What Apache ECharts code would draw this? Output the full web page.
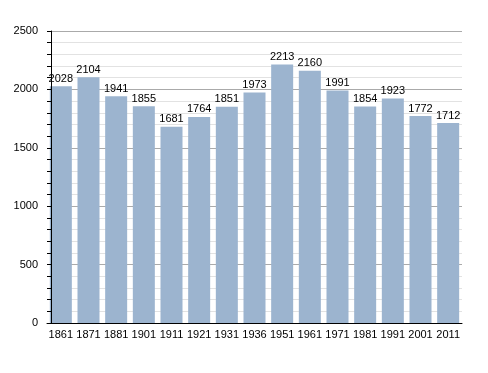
<!DOCTYPE html>
<html><head><meta charset="utf-8">
<script src="https://cdn.jsdelivr.net/npm/echarts@6/dist/echarts.min.js"></script>
<style>html,body{margin:0;padding:0;background:#fff}#c{width:488px;height:373px}</style>
</head><body><div id="c"></div>
<script>
var years = ['1861','1871','1881','1901','1911','1921','1931','1936','1951','1961','1971','1981','1991','2001','2011'];
var population = [2028,2104,1941,1855,1681,1764,1851,1973,2213,2160,1991,1854,1923,1772,1712];
var yTicks = [0,500,1000,1500,2000,2500];
var font = 'Liberation Sans, Arial, sans-serif';
var chart = echarts.init(document.getElementById('c'));
chart.setOption({
  animation:false,
  grid:{left:47,right:26,top:31,bottom:50},
  xAxis:{type:'category',data:years,
    axisLine:{lineStyle:{color:'#000',width:1}},
    axisTick:{show:false},
    axisLabel:{color:'#000',fontFamily:font,fontSize:11,margin:6,interval:0}},
  yAxis:[{type:'value',min:yTicks[0],max:yTicks[yTicks.length-1],interval:500,
    axisLine:{show:false},axisTick:{show:false},axisLabel:{show:false},
    splitLine:{lineStyle:{color:'#aaaaaa'}},
    minorTick:{show:false,splitNumber:5},
    minorSplitLine:{show:true,lineStyle:{color:'#e2e2e2'}}},
   {type:'value',position:'left',offset:-4,z:10,min:yTicks[0],max:yTicks[yTicks.length-1],interval:500,
    axisLine:{show:true,lineStyle:{color:'#000'}},
    axisTick:{show:true,length:4,lineStyle:{color:'#000'}},
    minorTick:{show:true,splitNumber:5,length:4,lineStyle:{color:'#000'}},
    splitLine:{show:false},
    axisLabel:{color:'#000',fontFamily:font,fontSize:11,margin:13,formatter:function(v){return String(v);}}}],
  series:[{type:'bar',data:population,barWidth:22,yAxisIndex:0,
    itemStyle:{color:'#9cb4cf'},
    label:{show:true,position:'top',color:'#000',fontFamily:font,fontSize:11,distance:2}}]
});
</script></body></html>
